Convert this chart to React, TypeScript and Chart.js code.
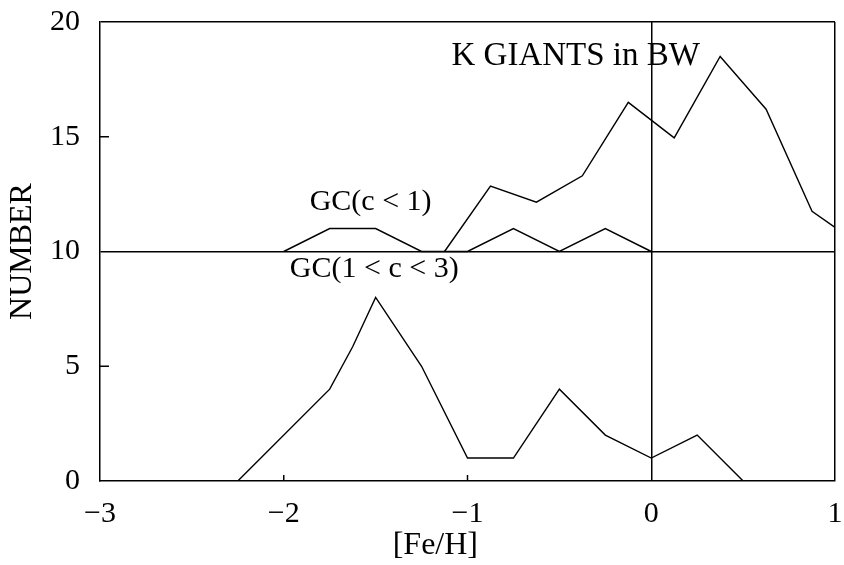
import React, { useEffect, useRef } from "react";
import { Chart, registerables } from "chart.js";

Chart.register(...registerables);

// K giants in Baade's Window (plotted with +10 offset above the y=10 baseline)
const kGiantsFeH = [-1.125, -0.875, -0.625, -0.375, -0.125, 0.125, 0.375, 0.625, 0.875, 1.0];
const kGiantsN = [10.0, 12.85, 12.15, 13.3, 16.5, 14.95, 18.5, 16.2, 11.75, 11.05];

// GC (c<1), offset by +10
const gcLowFeH = [-2.0, -1.75, -1.5, -1.25, -1.0, -0.75, -0.5, -0.25, 0.0];
const gcLowN = [10, 11, 11, 10, 10, 11, 10, 11, 10];

// GC (1<c<3)
const gcHighFeH = [-2.25, -1.75, -1.625, -1.5, -1.25, -1.0, -0.75, -0.5, -0.25, 0.0, 0.25, 0.5];
const gcHighN = [0, 4, 5.85, 8, 5, 1, 1, 4, 2, 1, 2, 0];

const xTickValues = [-3, -2, -1, 0, 1];
const yTickValues = [0, 5, 10, 15, 20];

const labelTexts = ["K GIANTS in BW", "GC(c < 1)", "GC(1 < c < 3)"];
const labelAnchorX = [-1.087, -1.859, -1.967];
const labelAnchorY = [18.13, 11.81, 8.89];
const labelFontSize = [33, 30, 30];

const SERIF = "'Liberation Serif', 'Times New Roman', serif";

function pts(xs: number[], ys: number[]) {
  return xs.map((x, i) => ({ x, y: ys[i] }));
}

function noPad(s: any) {
  s.paddingLeft = 0;
  s.paddingRight = 0;
  s.paddingTop = 0;
  s.paddingBottom = 0;
}

export default function App() {
  const ref = useRef<HTMLCanvasElement | null>(null);

  useEffect(() => {
    if (!ref.current) return;
    const overlay = {
      id: "overlay",
      afterDraw(chart: any) {
        const ctx = chart.ctx;
        const xs = chart.scales.x;
        const ys = chart.scales.y;
        const area = chart.chartArea;
        ctx.save();
        ctx.strokeStyle = "#000";
        ctx.lineWidth = 1.5;
        // inward tick marks
        yTickValues.forEach((v) => {
          if (v === 0 || v === 10 || v === 20) return;
          const py = ys.getPixelForValue(v);
          ctx.beginPath();
          ctx.moveTo(area.left, py);
          ctx.lineTo(area.left + 9, py);
          ctx.stroke();
        });
        xTickValues.forEach((v) => {
          if (v === -3 || v === 0 || v === 1) return;
          const px = xs.getPixelForValue(v);
          ctx.beginPath();
          ctx.moveTo(px, area.bottom);
          ctx.lineTo(px, area.bottom - 6);
          ctx.stroke();
        });
        // in-plot labels
        ctx.fillStyle = "#000";
        ctx.textAlign = "left";
        ctx.textBaseline = "alphabetic";
        labelTexts.forEach((t, i) => {
          ctx.font = `${labelFontSize[i]}px ${SERIF}`;
          ctx.fillText(t, xs.getPixelForValue(labelAnchorX[i]), ys.getPixelForValue(labelAnchorY[i]));
        });
        // x axis title
        ctx.font = `32px ${SERIF}`;
        ctx.textAlign = "center";
        ctx.textBaseline = "middle";
        ctx.fillText("[Fe/H]", xs.getPixelForValue(-1.175), area.bottom + 65);
        ctx.restore();
      },
    };

    const chart = new Chart(ref.current, {
      type: "line",
      data: {
        datasets: [
          { label: "K GIANTS in BW", data: pts(kGiantsFeH, kGiantsN) },
          { label: "GC(c<1)", data: pts(gcLowFeH, gcLowN) },
          { label: "GC(1<c<3)", data: pts(gcHighFeH, gcHighN) },
        ].map((d) => ({
          ...d,
          borderColor: "#000",
          backgroundColor: "#000",
          borderWidth: 1.4,
          pointRadius: 0,
          tension: 0,
          fill: false,
        })),
      },
      options: {
        animation: false,
        responsive: false,
        events: [],
        layout: { padding: { top: 22, right: 9, left: 0, bottom: 0 } },
        plugins: {
          legend: { display: false },
          tooltip: { enabled: false },
          title: { display: false },
        },
        scales: {
          x: {
            type: "linear",
            min: -3,
            max: 1,
            afterFit: (s: any) => {
              s.height = 84;
              noPad(s);
            },
            afterBuildTicks: (s: any) => {
              s.ticks = xTickValues.map((v) => ({ value: v }));
            },
            border: { display: true, color: "#000", width: 1.5 },
            grid: {
              drawTicks: false,
              lineWidth: 1.5,
              color: (c: any) =>
                c.tick && (c.tick.value === 0 || c.tick.value === 1) ? "#000" : "rgba(0,0,0,0)",
            },
            ticks: {
              autoSkip: false,
              maxRotation: 0,
              padding: 15,
              color: "#000",
              font: { family: SERIF, size: 30 },
              callback: (v: any) => (Number(v) < 0 ? "\u2212" + Math.abs(Number(v)) : String(v)),
            },
          },
          y: {
            type: "linear",
            min: 0,
            max: 20,
            afterFit: (s: any) => {
              s.width = 100;
              noPad(s);
            },
            afterBuildTicks: (s: any) => {
              s.ticks = yTickValues.map((v) => ({ value: v }));
            },
            border: { display: true, color: "#000", width: 1.5 },
            grid: {
              drawTicks: false,
              lineWidth: 1.5,
              color: (c: any) =>
                c.tick && (c.tick.value === 10 || c.tick.value === 20) ? "#000" : "rgba(0,0,0,0)",
            },
            title: {
              display: true,
              text: "NUMBER",
              color: "#000",
              font: { family: SERIF, size: 32 },
              padding: { top: 3, bottom: 0 },
            },
            ticks: {
              autoSkip: false,
              padding: 20,
              color: "#000",
              font: { family: SERIF, size: 30 },
            },
          },
        },
      },
      plugins: [overlay],
    } as any);
    return () => chart.destroy();
  }, []);

  return (
    <div style={{ position: "fixed", left: 0, top: 0, width: 844, height: 565, background: "#fff" }}>
      <canvas ref={ref} width={844} height={565} style={{ display: "block" }} />
    </div>
  );
}
